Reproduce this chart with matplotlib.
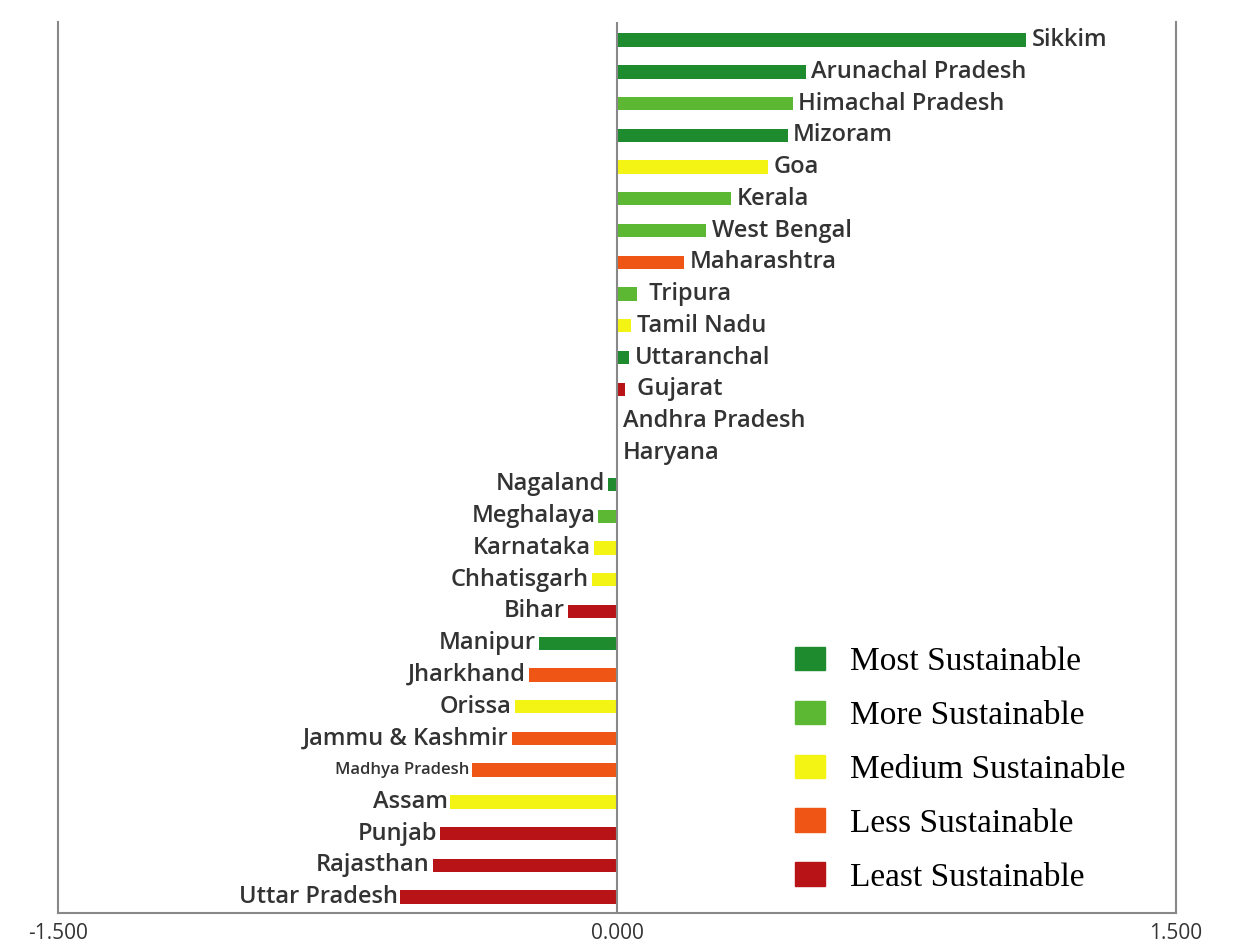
import matplotlib.pyplot as plt
from matplotlib.patches import Patch

states = ["Sikkim", "Arunachal Pradesh", "Himachal Pradesh", "Mizoram", "Goa",
          "Kerala", "West Bengal", "Maharashtra", " Tripura", "Tamil Nadu",
          "Uttaranchal", " Gujarat", "Andhra Pradesh", "Haryana", "Nagaland",
          "Meghalaya", "Karnataka", "Chhatisgarh", "Bihar", "Manipur",
          "Jharkhand", "Orissa", "Jammu & Kashmir", "Madhya Pradesh", "Assam",
          "Punjab", "Rajasthan", "Uttar Pradesh"]
values = [1.098, 0.506, 0.471, 0.458, 0.406, 0.307, 0.240, 0.180, 0.054, 0.038,
          0.032, 0.022, 0.0, 0.0, -0.024, -0.050, -0.062, -0.068, -0.132, -0.210,
          -0.237, -0.275, -0.283, -0.388, -0.447, -0.474, -0.495, -0.581]
# 0 most, 1 more, 2 medium, 3 less, 4 least
groups = [0, 0, 1, 0, 2, 1, 1, 3, 1, 2, 0, 4, 2, 2, 0, 1, 2, 2, 4, 0,
          3, 2, 3, 3, 2, 4, 4, 4]
group_names = ["Most Sustainable", "More Sustainable", "Medium Sustainable",
               "Less Sustainable", "Least Sustainable"]
group_colors = ["#1e8c2e", "#5cb832", "#f4f414", "#ef5514", "#b81418"]

fig = plt.figure(figsize=(12.39, 9.51), dpi=100)
ax = fig.add_axes([58/1239, 38/951, (1176-58)/1239, (913-22)/951])

ypos = list(range(len(states)))
cols = [group_colors[g] for g in groups]
ax.barh(ypos, values, height=0.42, color=cols)

for y, v, s in zip(ypos, values, states):
    fs = 12 if s == "Madhya Pradesh" else 17
    if v >= 0:
        ax.annotate(s, (v, y), xytext=(4, 0), textcoords="offset points",
                    ha="left", va="center", fontsize=fs, family="Open Sans",
                    fontweight="semibold", color="#333333")
    else:
        ax.annotate(s, (v, y), xytext=(-2, 0), textcoords="offset points",
                    ha="right", va="center", fontsize=fs, family="Open Sans",
                    fontweight="semibold", color="#333333")

ax.axvline(0, color="#888888", lw=1.5)
ax.set_xlim(-1.5, 1.5)
ax.set_ylim(27.5, -0.57)
ax.set_xticks([-1.5, 0, 1.5])
ax.set_xticklabels(["-1.500", "0.000", "1.500"], fontsize=15, family="Open Sans",
                   color="#333333")
ax.tick_params(axis="x", length=0, pad=7)
ax.set_yticks([])
ax.spines["top"].set_visible(False)
for sp in ["left", "right", "bottom"]:
    ax.spines[sp].set_color("#888888")
    ax.spines[sp].set_linewidth(1.5)

handles = [Patch(color=c, label=n) for c, n in zip(group_colors, group_names)]
fig.legend(handles=handles, loc="upper left", bbox_to_anchor=(768/1239, 1-620/951),
           frameon=False, prop={"family": "Liberation Serif", "size": 24},
           handlelength=0.9, handleheight=0.7, labelspacing=0.7, handletextpad=0.75,
           borderpad=0.3)

fig.savefig("out.png", dpi=100)
